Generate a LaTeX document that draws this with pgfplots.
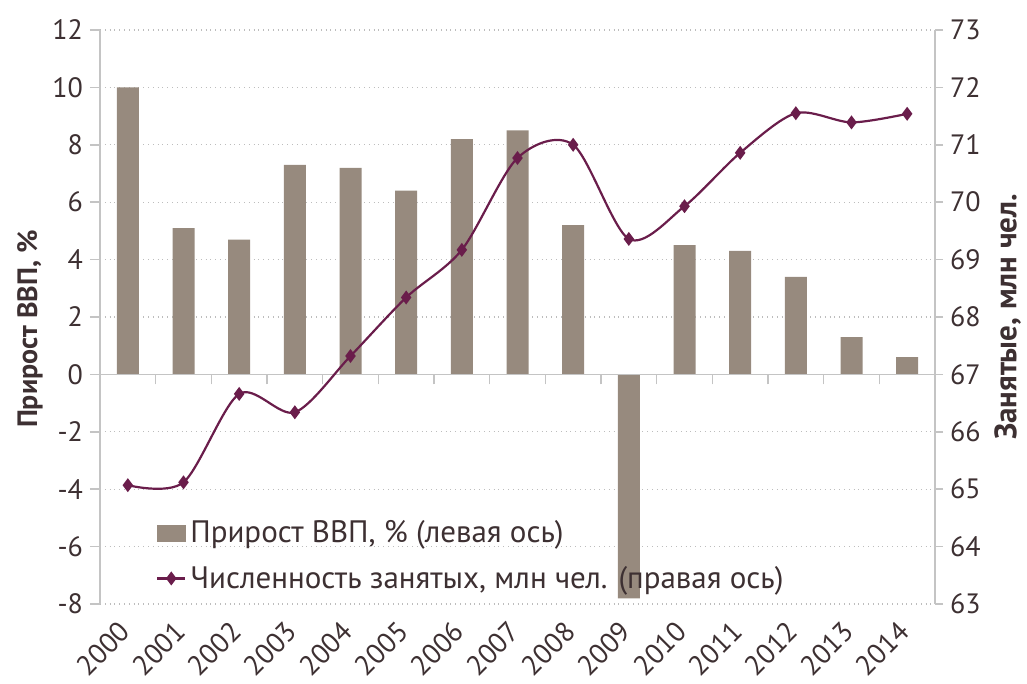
\documentclass[border=0pt]{standalone}
\usepackage{pgfplots}
\pgfplotsset{compat=1.18}
\usepackage{fontspec}
\setmainfont{PT Sans}
\definecolor{barc}{HTML}{978A7E}
\definecolor{linec}{HTML}{6A1D4B}
\definecolor{textc}{HTML}{3D3032}
\definecolor{axc}{HTML}{C4C4C4}
\definecolor{gridc}{HTML}{BDBDBD}
\newcommand{\tfont}{\fontsize{14}{17}\selectfont}
\newcommand{\lfont}{\fontsize{15.5}{18}\selectfont}
\pgfplotsset{
  mylineleg/.style={legend image code/.code={\draw[mark repeat=2,mark phase=2,##1] plot coordinates {(0pt,0pt)(7pt,0pt)(14pt,0pt)};}},
  mybarleg/.style={legend image code/.code={\fill[barc] (0pt,-4pt) rectangle (14pt,4pt);}},
  base/.style={
    width=417.5pt, height=287pt, scale only axis,
    xmin=-0.5, xmax=14.5,
    /pgf/number format/assume math mode=true,
    tick label style={font=\tfont, text=textc},
    label style={font=\tfont\bfseries, text=textc},
  }
}
\begin{document}
\begin{tikzpicture}
% bars, left axis, grid, x labels
\begin{axis}[base, name=ax,
  ymin=-8, ymax=12, ytick={-8,-6,...,12},
  axis y line*=left, axis x line*=bottom,
  x axis line style={draw=none},
  y axis line style={draw=axc, line width=0.8pt},
  xtick={0,...,14},
  xticklabels={2000,2001,2002,2003,2004,2005,2006,2007,2008,2009,2010,2011,2012,2013,2014},
  x tick style={draw=none},
  y tick style={draw=axc, line width=0.8pt},
  tick align=outside, major tick length=5pt,
  xticklabel style={xshift=-1pt, yshift=-6pt, rotate=45, anchor=east, inner sep=0.5pt},
  ymajorgrids, grid style={dotted, gridc, line width=0.6pt},
  ylabel={Прирост ВВП, \%},
  ylabel style={yshift=-2pt, xshift=-6pt},
]
\addplot[ybar, bar width=11pt, fill=barc, draw=none] coordinates {
(0,10.0) (1,5.1) (2,4.7) (3,7.3) (4,7.2) (5,6.4) (6,8.2) (7,8.5)
(8,5.2) (9,-7.8) (10,4.5) (11,4.3) (12,3.4) (13,1.3) (14,0.6)};
\end{axis}
% zero line with ticks between categories
\begin{axis}[base, at={(ax.south west)}, anchor=south west,
  ymin=-8, ymax=12,
  axis x line=middle, axis y line=none,
  x axis line style={-, draw=axc, line width=0.8pt},
  xtick={0.5,1.5,...,13.5}, xticklabels={},
  x tick style={draw=axc, line width=0.8pt},
  xtick align=outside, major tick length=5pt,
]
\addplot[draw=none] coordinates {(0,0)};
\end{axis}
% employment line, right axis
\begin{axis}[base, at={(ax.south west)}, anchor=south west,
  ymin=63, ymax=73, ytick={63,...,73},
  axis y line*=right, axis x line=none,
  y axis line style={draw=axc, line width=0.8pt},
  y tick style={draw=axc, line width=0.8pt},
  tick align=outside, major tick length=4pt,
  ylabel={Занятые, млн чел.},
  ylabel style={font=\fontsize{15.5}{18}\selectfont\bfseries},
  legend style={draw=none, fill=none, at={(0.062,0.008)}, anchor=south west,
    font=\lfont, text=textc, row sep=6pt, inner sep=2pt},
  legend cell align=left,
]
\addlegendimage{mybarleg}
\addlegendentry{Прирост ВВП, \% (левая ось)}
\addplot[linec, line width=1.1pt, smooth, mark=diamond*, mark size=2.6pt,
  mark options={fill=linec, draw=linec}, mylineleg]
coordinates {
(0,65.07) (1,65.12) (2,66.66) (3,66.34) (4,67.32) (5,68.34) (6,69.17) (7,70.77)
(8,71.00) (9,69.36) (10,69.93) (11,70.86) (12,71.55) (13,71.39) (14,71.54)};
\addlegendentry{Численность занятых, млн чел. (правая ось)}
\end{axis}
\pgfresetboundingbox
\useasboundingbox ([shift={(-50pt,-40pt)}]ax.south west) rectangle ([shift={(46pt,15pt)}]ax.north east);
\end{tikzpicture}
\end{document}
